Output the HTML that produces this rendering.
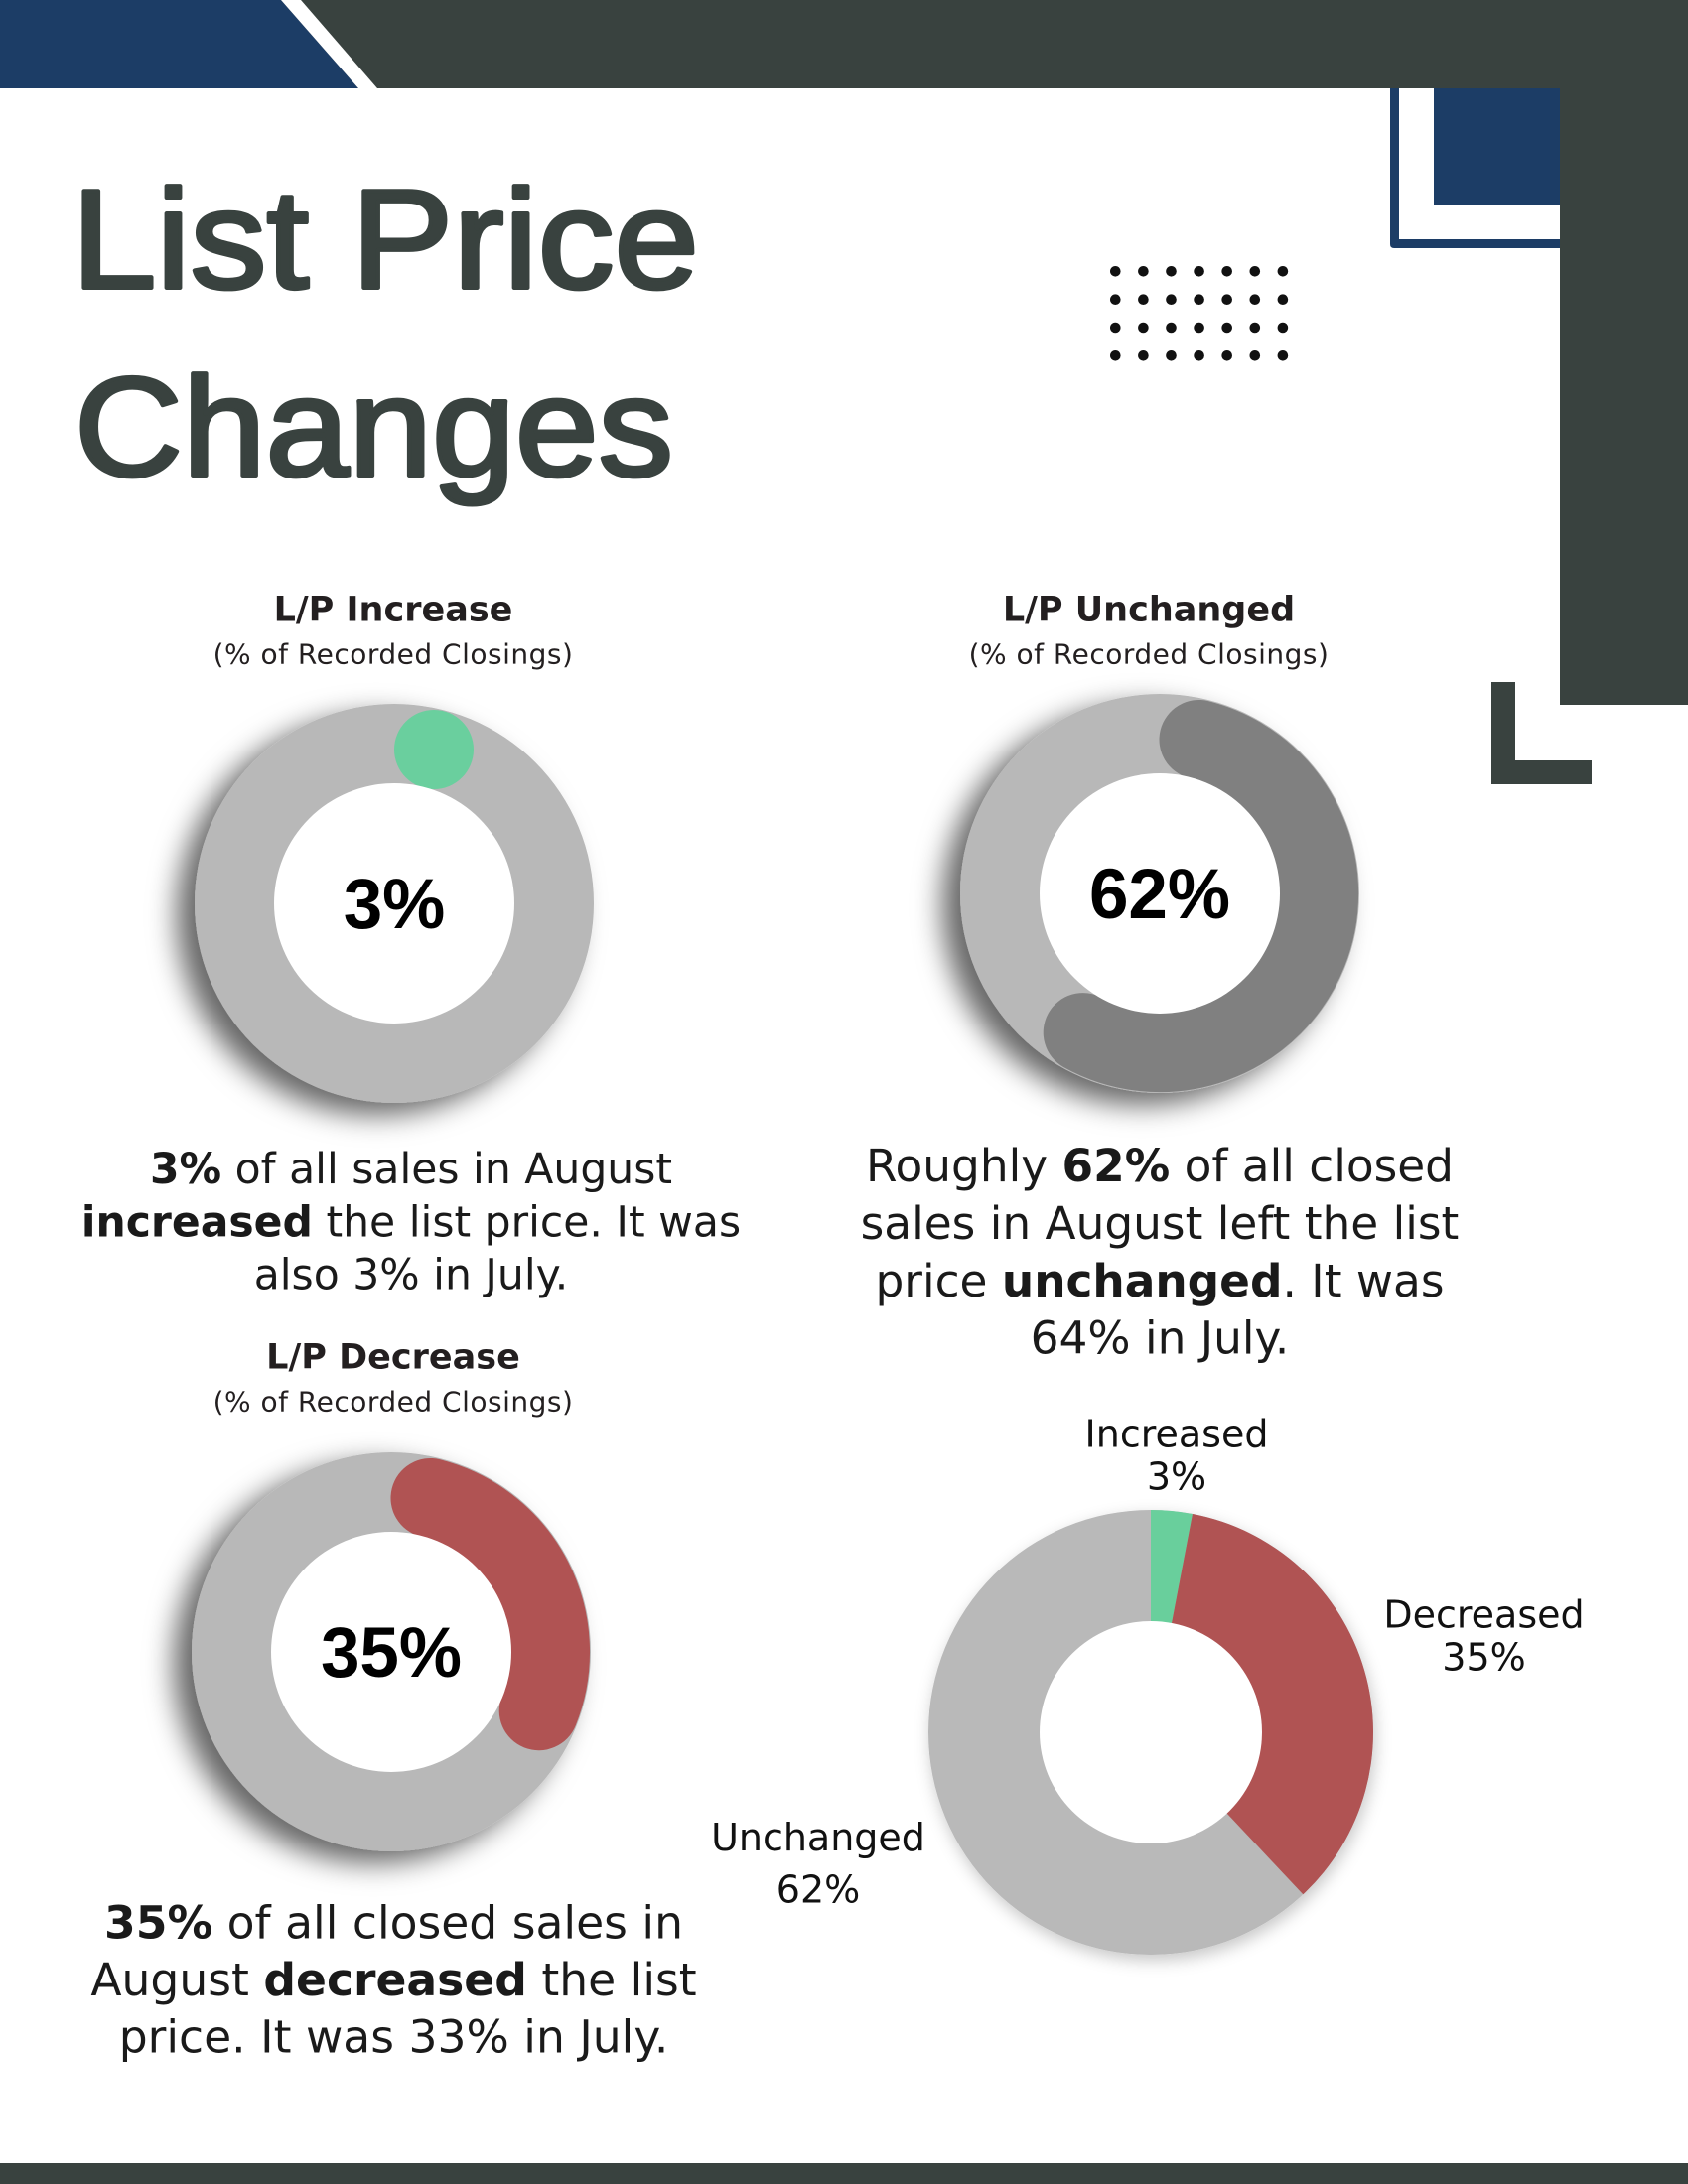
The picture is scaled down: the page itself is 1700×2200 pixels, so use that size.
<!DOCTYPE html>
<html>
<head>
<meta charset="utf-8">
<style>
  html, body { margin: 0; padding: 0; background: #ffffff; }
  body { width: 1700px; height: 2200px; overflow: hidden; }
  svg { display: block; }
</style>
</head>
<body>
<svg width="1700" height="2200" viewBox="0 0 1700 2200" xmlns="http://www.w3.org/2000/svg">
  <defs>
    <filter id="dsh" x="-30%" y="-30%" width="160%" height="160%">
      <feDropShadow dx="-18" dy="12" stdDeviation="14" flood-color="#000" flood-opacity="0.6"/>
    </filter>
    <filter id="psh" x="-30%" y="-30%" width="160%" height="160%">
      <feDropShadow dx="2" dy="6" stdDeviation="8" flood-color="#000" flood-opacity="0.22"/>
    </filter>
  </defs>

  <rect x="0" y="0" width="1700" height="2200" fill="#ffffff"/>

  <!-- Top bar -->
  <rect x="0" y="0" width="1700" height="89" fill="#39423f"/>
  <polygon points="0,0 283,0 361,89 0,89" fill="#1c3d66"/>
  <polygon points="283,0 303,0 380,89 361,89" fill="#ffffff"/>

  <!-- Right decorations -->
  <rect x="1571" y="0" width="129" height="710" fill="#39423f"/>
  <rect x="1444" y="89" width="127" height="118" fill="#1c3d66"/>
  <path d="M1400,89 L1409,89 L1409,241 L1571,241 L1571,250 L1404,250 Q1400,250 1400,246 Z" fill="#1c3d66"/>
  <path d="M1502,687 L1526,687 L1526,766 L1603,766 L1603,790 L1502,790 Z" fill="#39423f"/>

  <!-- Dot grid -->
  <g fill="#111">
    <circle cx="1123.3" cy="273.3" r="5.3"/><circle cx="1151.4" cy="273.3" r="5.3"/><circle cx="1179.5" cy="273.3" r="5.3"/><circle cx="1207.6" cy="273.3" r="5.3"/><circle cx="1235.7" cy="273.3" r="5.3"/><circle cx="1263.8" cy="273.3" r="5.3"/><circle cx="1291.9" cy="273.3" r="5.3"/>
    <circle cx="1123.3" cy="301.7" r="5.3"/><circle cx="1151.4" cy="301.7" r="5.3"/><circle cx="1179.5" cy="301.7" r="5.3"/><circle cx="1207.6" cy="301.7" r="5.3"/><circle cx="1235.7" cy="301.7" r="5.3"/><circle cx="1263.8" cy="301.7" r="5.3"/><circle cx="1291.9" cy="301.7" r="5.3"/>
    <circle cx="1123.3" cy="330" r="5.3"/><circle cx="1151.4" cy="330" r="5.3"/><circle cx="1179.5" cy="330" r="5.3"/><circle cx="1207.6" cy="330" r="5.3"/><circle cx="1235.7" cy="330" r="5.3"/><circle cx="1263.8" cy="330" r="5.3"/><circle cx="1291.9" cy="330" r="5.3"/>
    <circle cx="1123.3" cy="358.3" r="5.3"/><circle cx="1151.4" cy="358.3" r="5.3"/><circle cx="1179.5" cy="358.3" r="5.3"/><circle cx="1207.6" cy="358.3" r="5.3"/><circle cx="1235.7" cy="358.3" r="5.3"/><circle cx="1263.8" cy="358.3" r="5.3"/><circle cx="1291.9" cy="358.3" r="5.3"/>
  </g>

  <!-- Title -->
  <g font-family="'Liberation Sans', Arial, sans-serif" font-weight="normal" font-size="142" fill="#39423f" stroke="#39423f" stroke-width="4" stroke-linejoin="round">
    <text x="72" y="290" textLength="632" lengthAdjust="spacingAndGlyphs">List Price</text>
    <text x="75" y="479" textLength="603" lengthAdjust="spacingAndGlyphs">Changes</text>
  </g>

  <!-- Section headings -->
  <g font-family="'DejaVu Sans', 'Liberation Sans', sans-serif" text-anchor="middle" fill="#231f20">
    <text x="396" y="625.5" font-size="35" font-weight="bold">L/P Increase</text>
    <text x="396" y="668.5" font-size="28" letter-spacing="0.5">(% of Recorded Closings)</text>

    <text x="1157" y="625.5" font-size="35" font-weight="bold">L/P Unchanged</text>
    <text x="1157" y="668.5" font-size="28" letter-spacing="0.5">(% of Recorded Closings)</text>

    <text x="396" y="1378.5" font-size="35" font-weight="bold">L/P Decrease</text>
    <text x="396" y="1421.5" font-size="28" letter-spacing="0.5">(% of Recorded Closings)</text>
  </g>

  <!-- Donut 1: 3% -->
  <circle cx="397" cy="910" r="201" fill="#b8b8b8" filter="url(#dsh)"/>
  <circle cx="437" cy="755" r="40" fill="#6acf9e"/>
  <circle cx="397" cy="910" r="121" fill="#ffffff"/>
  <text x="397" y="935" text-anchor="middle" font-family="'Liberation Sans', Arial, sans-serif" font-weight="bold" font-size="71" fill="#000">3%</text>

  <!-- Donut 2: 62% -->
  <circle cx="1168" cy="900" r="201" fill="#b8b8b8" filter="url(#dsh)"/>
  <path d="M1207.5,745 A160,160 0 1 1 1090.7,1040.1" fill="none" stroke="#808080" stroke-width="80" stroke-linecap="round"/>
  <circle cx="1168" cy="900" r="121" fill="#ffffff"/>
  <text x="1168" y="925" text-anchor="middle" font-family="'Liberation Sans', Arial, sans-serif" font-weight="bold" font-size="71" fill="#000">62%</text>

  <!-- Donut 3: 35% -->
  <circle cx="394" cy="1664" r="201" fill="#b8b8b8" filter="url(#dsh)"/>
  <path d="M433.5,1509 A160,160 0 0 1 542.7,1723.2" fill="none" stroke="#b05353" stroke-width="80" stroke-linecap="round"/>
  <circle cx="394" cy="1664" r="121" fill="#ffffff"/>
  <text x="394" y="1689" text-anchor="middle" font-family="'Liberation Sans', Arial, sans-serif" font-weight="bold" font-size="71" fill="#000">35%</text>

  <!-- Paragraphs -->
  <g font-family="'DejaVu Sans', 'Liberation Sans', sans-serif" text-anchor="middle" fill="#1a1a1a">
    <g font-size="42.5">
      <text x="414" y="1192"><tspan font-weight="bold">3%</tspan> of all sales in August</text>
      <text x="414" y="1245.5"><tspan font-weight="bold">increased</tspan> the list price. It was</text>
      <text x="414" y="1298.5">also 3% in July.</text>
    </g>
    <g font-size="45.4">
      <text x="1168" y="1190">Roughly <tspan font-weight="bold">62%</tspan> of all closed</text>
      <text x="1168" y="1248">sales in August left the list</text>
      <text x="1168" y="1306"><tspan>price </tspan><tspan font-weight="bold">unchanged</tspan>. It was</text>
      <text x="1168" y="1363.5">64% in July.</text>
    </g>
    <g font-size="45.6">
      <text x="396.5" y="1952.5"><tspan font-weight="bold">35%</tspan> of all closed sales in</text>
      <text x="396.5" y="2010">August <tspan font-weight="bold">decreased</tspan> the list</text>
      <text x="396.5" y="2067.5">price. It was 33% in July.</text>
    </g>
  </g>

  <!-- Pie chart -->
  <circle cx="1159" cy="1745" r="224" fill="#b9b9b9" filter="url(#psh)"/>
  <path d="M1159,1745 L1159,1521 A224,224 0 0 1 1200.97,1524.97 Z" fill="#69cf9c"/>
  <path d="M1159,1745 L1200.97,1524.97 A224,224 0 0 1 1312.34,1908.29 Z" fill="#b05353"/>
  <circle cx="1159" cy="1745" r="112" fill="#ffffff"/>

  <g font-family="'DejaVu Sans', 'Liberation Sans', sans-serif" text-anchor="middle" fill="#111" font-size="38">
    <text x="1185" y="1457.5">Increased</text>
    <text x="1185" y="1500.5">3%</text>
    <text x="1494.5" y="1639.5">Decreased</text>
    <text x="1494.5" y="1682.5">35%</text>
    <text x="824" y="1864">Unchanged</text>
    <text x="824" y="1916.5">62%</text>
  </g>

  <!-- Bottom bar -->
  <rect x="0" y="2179" width="1700" height="21" fill="#39423f"/>
</svg>
</body>
</html>
